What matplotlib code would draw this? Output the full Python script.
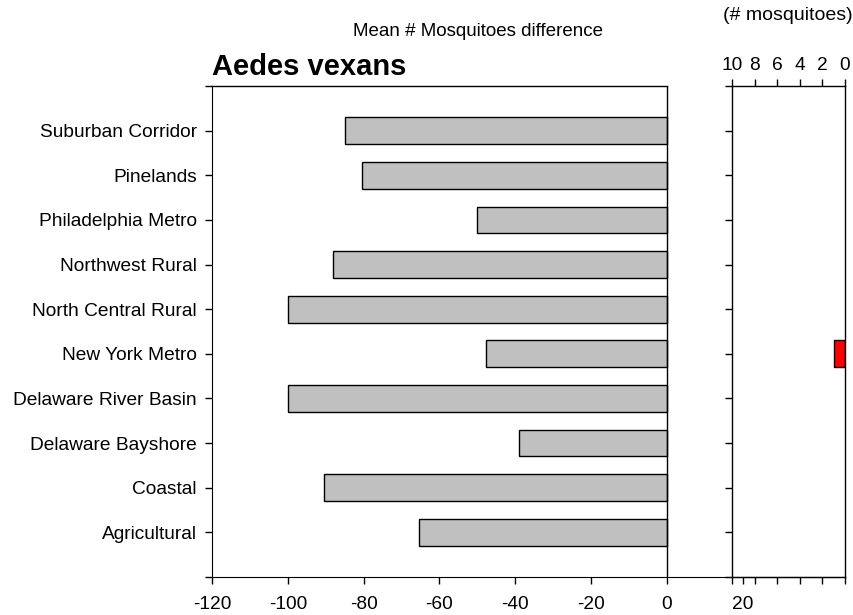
import matplotlib
matplotlib.use("Agg")
import matplotlib.pyplot as plt

plt.rcParams['font.family'] = ['Liberation Sans', 'DejaVu Sans']

# regions listed bottom to top
regions = ["Agricultural", "Coastal", "Delaware Bayshore", "Delaware River Basin",
           "New York Metro", "North Central Rural", "Northwest Rural",
           "Philadelphia Metro", "Pinelands", "Suburban Corridor"]
mean_diff = [-65.4, -90.4, -38.9, -100.0, -47.8, -100.0, -88.0, -50.0, -80.4, -84.9]
mosquitoes = [0, 0, 0, 0, 0.95, 0, 0, 0, 0, 0]

x_ticks = [-120, -100, -80, -60, -40, -20, 0, 20]
count_ticks = [10, 8, 6, 4, 2, 0]

fs = 13.8

fig = plt.figure(figsize=(8.54, 6.15), dpi=100)

# main panel: mean difference
ax = fig.add_axes([212 / 854, 1 - 577 / 615, 633 / 854, 491 / 615])
pos = list(range(len(regions)))
ax.barh(pos, mean_diff, height=0.6, color="#c0c0c0", edgecolor="black", linewidth=1)
ax.set_xlim(-120, 46.95)
ax.set_ylim(-1, 10)
ax.set_xticks(x_ticks)
ax.set_xticklabels([str(t) for t in x_ticks], fontsize=fs)
ax.set_yticks(list(range(-1, 11)))
ax.set_yticklabels([""] + regions + [""], fontsize=fs)
ax.tick_params(direction="out", length=5, width=1)
ax.tick_params(axis="x", pad=9)
ax.tick_params(axis="y", pad=6)
ax.spines["top"].set_visible(False)
ax.spines["right"].set_visible(False)
ax.plot([-120, 0], [10, 10], color="black", linewidth=1, clip_on=False)
ax.axvline(0, color="black", linewidth=1)

ax.text(0, 1.0214, "Aedes vexans", transform=ax.transAxes, fontsize=21,
        fontweight="bold", ha="left", va="baseline")

# right panel: number of mosquitoes
ax2 = fig.add_axes([732 / 854, 1 - 577 / 615, 113 / 854, 491 / 615])
nz = [i for i, v in enumerate(mosquitoes) if v > 0]
ax2.barh([pos[i] for i in nz], [mosquitoes[i] for i in nz], height=0.6,
         color="red", edgecolor="black", linewidth=1)
ax2.set_xlim(10, 0)
ax2.set_ylim(-1, 10)
ax2.set_xticks(count_ticks)
ax2.set_xticklabels([str(t) for t in count_ticks], fontsize=fs)
ax2.xaxis.set_ticks_position("both")
ax2.tick_params(axis="x", labeltop=True, labelbottom=False)
ax2.set_yticks(list(range(-1, 11)))
ax2.set_yticklabels([])
ax2.tick_params(direction="out", length=5, width=1, pad=4)
ax2.patch.set_alpha(0)
for sp in ax2.spines.values():
    sp.set_linewidth(1)
    sp.set_zorder(5)

fig.text(478 / 854, 1 - 32 / 615, "Mean # Mosquitoes difference", fontsize=13.5,
         ha="center", va="center")
fig.text(853 / 854, 1 - 16 / 615, "(# mosquitoes)", fontsize=14,
         ha="right", va="center")

fig.savefig("out.png", dpi=100)
